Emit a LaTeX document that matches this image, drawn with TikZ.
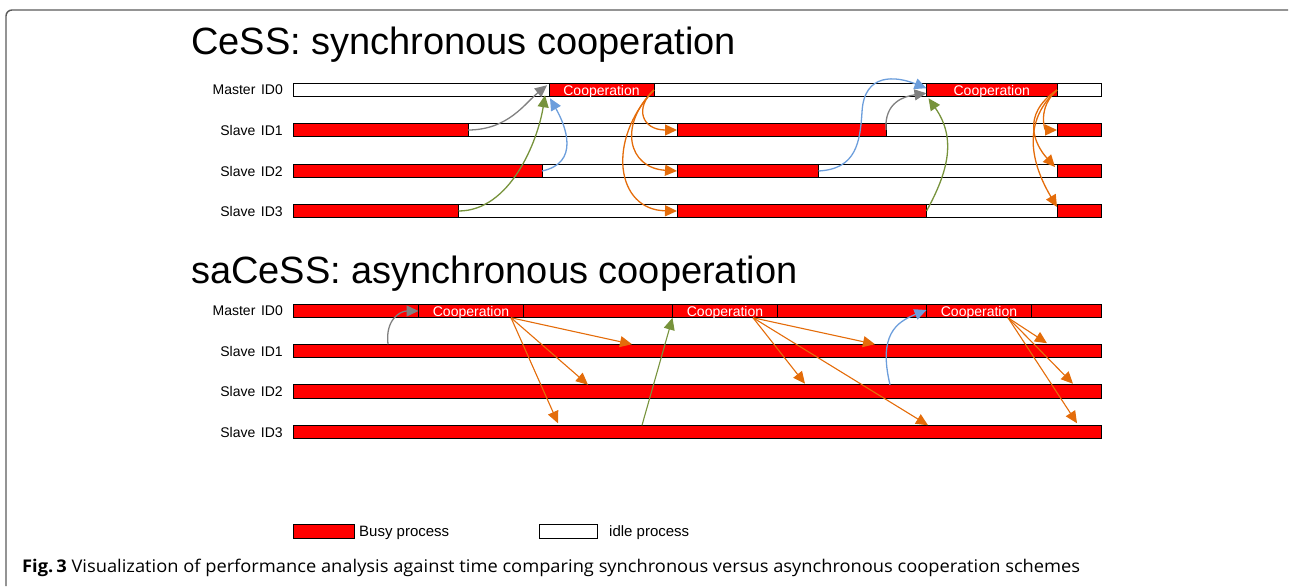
\documentclass[tikz,border=0pt]{standalone}
\usepackage{fontspec}
\setmainfont{Liberation Sans}
\newfontfamily\capfont{Open Sans}
\usetikzlibrary{arrows.meta}

\definecolor{busyred}{RGB}{255,0,0}
\definecolor{msgorange}{RGB}{228,108,10}
\definecolor{msggreen}{RGB}{119,147,60}
\definecolor{msgblue}{RGB}{108,158,220}
\definecolor{msggray}{RGB}{128,128,128}
\definecolor{framegray}{RGB}{90,90,90}

% one bar segment: name, style, x from, x to, row y, text
\newcommand\barseg[6]{%
  \node[#2, minimum width={(#4-#3)*1pt}] (#1) at (#3,#5) {#6};}

\begin{document}
\begin{tikzpicture}[x=1pt,y=-1pt,
  seg/.style={draw=black, line width=0.9pt, minimum height=13.5pt,
    inner sep=0pt, outer sep=0pt, anchor=west},
  busy/.style={seg, fill=busyred},
  idle/.style={seg, fill=white},
  coop/.style={busy, text=white, font=\fontsize{14}{14}\selectfont,
    text height=10pt, text depth=0pt},
  rowlabel/.style={anchor=east, inner sep=0pt, font=\fontsize{14}{14}\selectfont},
  title/.style={anchor=base west, inner sep=0pt, font=\fontsize{38}{38}\selectfont},
  legendtext/.style={anchor=base west, inner sep=0pt, font=\fontsize{15}{15}\selectfont},
  msg/.style={line width=1.3pt, -{Triangle[length=12pt,width=11pt]}},
  msgline/.style={line width=1.1pt, -{Triangle[length=12pt,width=11pt]}},
]
\useasboundingbox (0,0) rectangle (1289,586);

% frame
\draw[framegray, line width=1.4pt, rounded corners=6pt]
  (6,586) -- (6,10) -- (1288,10);

% ---------------- synchronous cooperation ----------------
\node[title] (t1) at (191,55) {CeSS: synchronous cooperation};

\node[rowlabel] (l0) at (283,90)  {Master\hspace{0.4em}ID0};
\node[rowlabel] (l1) at (283,130) {Slave\hspace{0.4em}ID1};
\node[rowlabel] (l2) at (283,171) {Slave\hspace{0.4em}ID2};
\node[rowlabel] (l3) at (283,211) {Slave\hspace{0.4em}ID3};

\barseg{m0a}{idle}{293}{549}{90}{}
\barseg{m0b}{coop}{549}{654}{90}{Cooperation}
\barseg{m0c}{idle}{654}{926.5}{90}{}
\barseg{m0d}{coop}{926.5}{1057}{90}{Cooperation}
\barseg{m0e}{idle}{1057}{1101}{90}{}

\barseg{s1a}{busy}{293}{468}{130}{}
\barseg{s1b}{idle}{468}{677}{130}{}
\barseg{s1c}{busy}{677}{886}{130}{}
\barseg{s1d}{idle}{886}{1057}{130}{}
\barseg{s1e}{busy}{1057}{1101}{130}{}

\barseg{s2a}{busy}{293}{542}{171}{}
\barseg{s2b}{idle}{542}{677}{171}{}
\barseg{s2c}{busy}{677}{818.5}{171}{}
\barseg{s2d}{idle}{818.5}{1057}{171}{}
\barseg{s2e}{busy}{1057}{1101}{171}{}

\barseg{s3a}{busy}{293}{458.5}{211}{}
\barseg{s3b}{idle}{458.5}{677}{211}{}
\barseg{s3c}{busy}{677}{926.5}{211}{}
\barseg{s3d}{idle}{926.5}{1057}{211}{}
\barseg{s3e}{busy}{1057}{1101}{211}{}

% slaves report to the master (first round)
\draw[msg, msggray] (s1a.east) .. controls +(40,0) and +(-22,18) ..
  ([shift={(-2,2)}]m0b.north west);
\draw[msg, msggreen] (s3a.east) .. controls +(52,0) and +(-7,45) ..
  ([shift={(-4,12)}]m0b.north west);
\draw[msg, msgblue] (s2a.east) .. controls +(38,-8) and +(16,28) ..
  ([shift={(1,15)}]m0b.north west);

% master broadcasts (first round)
\draw[msg, msgorange] (m0b.east) .. controls (634,108) and (642,130) .. (s1c.west);
\draw[msg, msgorange] (m0b.east) .. controls (618,125) and (628,168) .. (s2c.west);
\draw[msg, msgorange] (m0b.east) .. controls (606,140) and (616,210) .. (s3c.west);

% slaves report to the master (second round)
\draw[msg, msggray] (s1c.east) .. controls +(-2,-28) and +(-22,3) ..
  ([shift={(0,10)}]m0d.north west);
\draw[msg, msgblue] (s2c.east) .. controls +(38,-2) and +(-2,30) .. (862,112)
  .. controls +(2,-40) and +(-30,-12) .. ([shift={(0,5)}]m0d.north west);
\draw[msg, msggreen] (s3c.east) .. controls +(22,-40) and +(28,40) ..
  ([shift={(2,15)}]m0d.north west);

% master broadcasts (second round)
\draw[msg, msgorange] (m0d.east) .. controls (1037,108) and (1045,130) .. (s1e.west);
\draw[msg, msgorange] (m0d.east) .. controls (1020,115) and (1035,145) ..
  ([shift={(-2,-4)}]s2e.west);
\draw[msg, msgorange] (m0d.east) .. controls (1018,125) and (1035,170) ..
  ([shift={(0,-4)}]s3e.west);

% ---------------- asynchronous cooperation ----------------
\node[title] (t2) at (191,283) {saCeSS: asynchronous cooperation};

\node[rowlabel] (k0) at (283,311)   {Master\hspace{0.4em}ID0};
\node[rowlabel] (k1) at (283,351)   {Slave\hspace{0.4em}ID1};
\node[rowlabel] (k2) at (283,391.5) {Slave\hspace{0.4em}ID2};
\node[rowlabel] (k3) at (283,432)   {Slave\hspace{0.4em}ID3};

\barseg{b0}{busy}{293}{1101}{311}{}
\barseg{c1}{coop}{418.5}{523.5}{311}{Cooperation}
\barseg{c2}{coop}{672.5}{777.5}{311}{Cooperation}
\barseg{c3}{coop}{926.5}{1031.5}{311}{Cooperation}
\barseg{b1}{busy}{293}{1101}{351}{}
\barseg{b2}{busy}{293}{1101}{391.5}{}
\barseg{b3}{busy}{293}{1101}{432}{}

% slaves push results whenever ready
\draw[msg, msggray] ([xshift=95pt]b1.north west) .. controls +(-3,-25) and +(-18,0) .. (c1.west);
\draw[msgline, msggreen] ([xshift=349pt]b3.north west) -- (c2.south west);
\draw[msg, msgblue] ([xshift=597pt]b2.north west) .. controls +(-12,-50) and +(-30,12) ..
  ([shift={(0,-1)}]c3.west);

% master broadcasts without waiting
\draw[msgline, msgorange] ([xshift=40pt]c1.south) -- ([xshift=339pt]b1.north west);
\draw[msgline, msgorange] ([xshift=40pt]c1.south) -- ([xshift=295pt]b2.north west);
\draw[msgline, msgorange] ([xshift=40pt]c1.south) -- ([shift={(265,-2)}]b3.north west);

\draw[msgline, msgorange] ([xshift=28pt]c2.south) -- ([xshift=582pt]b1.north west);
\draw[msgline, msgorange] ([xshift=28pt]c2.south) -- ([shift={(512,-1)}]b2.north west);
\draw[msgline, msgorange] ([xshift=28pt]c2.south) -- ([xshift=635pt]b3.north west);

\draw[msgline, msgorange] ([xshift=29pt]c3.south) -- ([shift={(754,-1)}]b1.north west);
\draw[msgline, msgorange] ([xshift=29pt]c3.south) -- ([shift={(780,-1)}]b2.north west);
\draw[msgline, msgorange] ([xshift=29pt]c3.south) -- ([shift={(784,-2)}]b3.north west);

% ---------------- legend ----------------
\node[busy, minimum width=61pt, minimum height=14pt] (lgbusy) at (293,531) {};
\node[legendtext] (lgbusyt) at (359,536) {Busy process};
\node[idle, minimum width=58pt, minimum height=14pt] (lgidle) at (539,531) {};
\node[legendtext] (lgidlet) at (609,536) {idle process};

% ---------------- caption ----------------
\node[anchor=base west, inner sep=0pt, font=\capfont\fontsize{17.5}{17.5}\selectfont]
  (caption) at (22,572)
  {\scalebox{1.045}[1]{\textbf{Fig.\,3} Visualization of performance analysis against time comparing synchronous versus asynchronous cooperation schemes}};
\end{tikzpicture}
\end{document}
